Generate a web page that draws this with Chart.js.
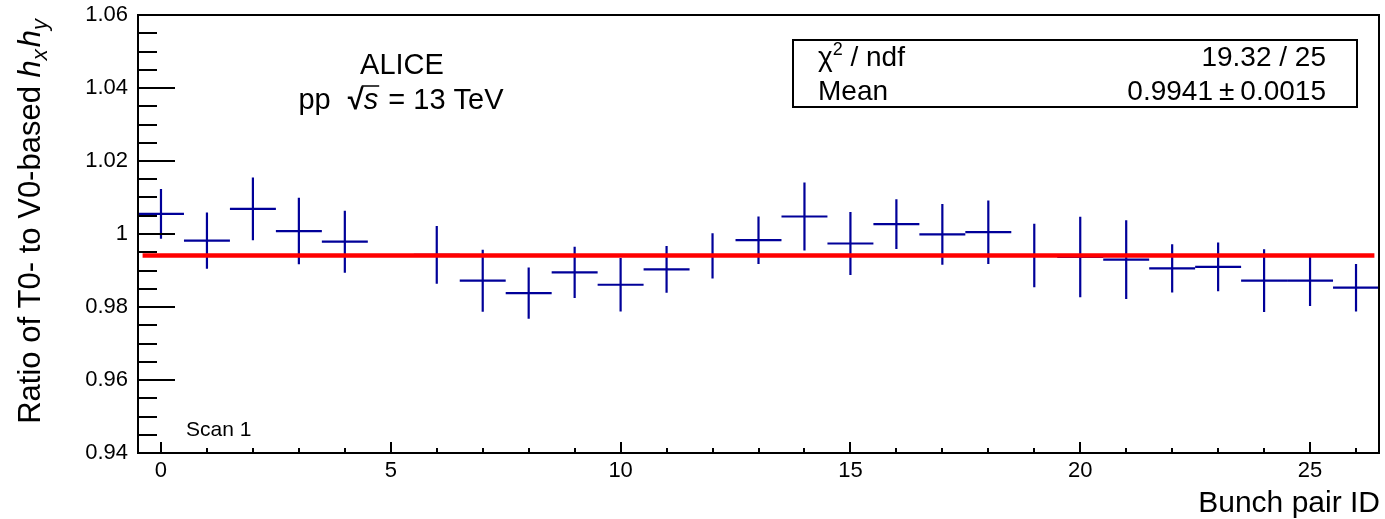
<!DOCTYPE html>
<html>
<head>
<meta charset="utf-8">
<script src="https://cdn.jsdelivr.net/npm/chart.js@4.4.1/dist/chart.umd.min.js"></script>
<style>
  html, body { margin: 0; padding: 0; background: #ffffff; }
  #wrap { width: 1385px; height: 519px; position: relative; }
</style>
</head>
<body>
<div id="wrap"><canvas id="c" width="1385" height="519"></canvas></div>
<script>
// ---------------- data ----------------
const bunchIds = [0, 1, 2, 3, 4, 6, 7, 8, 9, 10, 11, 12, 13, 14, 15, 16, 17, 18, 19, 20, 21, 22, 23, 24, 25, 26];
const ratioValues = [1.0055, 0.9982, 1.0069, 1.0008, 0.9979, 0.9943, 0.9872, 0.9838, 0.9895, 0.9861, 0.9903, 0.9940, 0.9983,
                     1.0048, 0.9974, 1.0027, 0.9999, 1.0005, 0.9941, 0.9937, 0.9930, 0.9906, 0.9910, 0.9872, 0.9872, 0.9853];
const ratioErrors = [0.0068, 0.0077, 0.0086, 0.0091, 0.0085, 0.0079, 0.0085, 0.0070, 0.0070, 0.0073, 0.0064, 0.0062, 0.0065,
                     0.0093, 0.0086, 0.0068, 0.0083, 0.0087, 0.0087, 0.0110, 0.0108, 0.0066, 0.0067, 0.0086, 0.0069, 0.0065];
const binHalfWidth = 0.5;
const fitMean = 0.9941;
const fitRange = [-0.4, 26.4];
const xRange = [-0.5, 26.5];
const yRange = [0.94, 1.06];
const xTickValues = [0, 5, 10, 15, 20, 25];
const xTickLabels = ['0', '5', '10', '15', '20', '25'];
const yTickValues = [0.94, 0.96, 0.98, 1.00, 1.02, 1.04, 1.06];
const yTickLabels = ['0.94', '0.96', '0.98', '1', '1.02', '1.04', '1.06'];
const statsNames = ['χ', 'Mean'];
const statsValues = ['19.32 / 25', '0.9941'];
const statsErrors = ['', '0.0015'];

// ---------------- style ----------------
const FONT = '"Liberation Sans", Arial, Helvetica, sans-serif';
const BLUE = 'rgb(0,0,153)';
const RED = 'rgb(255,0,0)';

function drawRich(ctx, segs, x, y, align) {
  let total = 0;
  segs.forEach(s => { ctx.font = s.font; s.w = ctx.measureText(s.t).width + (s.gap || 0); total += s.w; });
  let cx = align === 'right' ? x - total : (align === 'center' ? x - total / 2 : x);
  ctx.textAlign = 'left';
  ctx.textBaseline = 'alphabetic';
  segs.forEach(s => {
    ctx.font = s.font;
    ctx.fillText(s.t, cx, y + (s.dy || 0));
    s.x0 = cx; s.x1 = cx + s.w;
    cx += s.w;
  });
  return segs;
}

const rootPlugin = {
  id: 'rootStyle',
  beforeDatasetsDraw(chart) {
    const ctx = chart.ctx, xs = chart.scales.x, ys = chart.scales.y, a = chart.chartArea;
    ctx.save();
    ctx.beginPath(); ctx.rect(a.left, a.top, a.right - a.left, a.bottom - a.top); ctx.clip();
    ctx.strokeStyle = BLUE;
    ctx.lineWidth = 2.2;
    ctx.lineCap = 'butt';
    const pts = chart.data.datasets[0].data;
    pts.forEach((p, i) => {
      const px = xs.getPixelForValue(p.x);
      const py = ys.getPixelForValue(p.y);
      const x0 = xs.getPixelForValue(p.x - binHalfWidth);
      const x1 = xs.getPixelForValue(p.x + binHalfWidth);
      const y0 = ys.getPixelForValue(p.y - ratioErrors[i]);
      const y1 = ys.getPixelForValue(p.y + ratioErrors[i]);
      ctx.beginPath();
      ctx.moveTo(x0, py); ctx.lineTo(x1, py);
      ctx.moveTo(px, y0); ctx.lineTo(px, y1);
      ctx.stroke();
    });
    ctx.restore();
  },
  afterDatasetsDraw(chart) {
    const ctx = chart.ctx, xs = chart.scales.x, ys = chart.scales.y, a = chart.chartArea;
    ctx.save();
    ctx.fillStyle = '#000';
    ctx.strokeStyle = '#000';
    // frame
    ctx.lineWidth = 2;
    ctx.strokeRect(a.left, a.top, a.right - a.left, a.bottom - a.top);
    // y ticks (inside)
    for (let i = 0; i <= 24; i++) {
      const v = yRange[0] + i * 0.005;
      const py = Math.round(ys.getPixelForValue(v));
      const len = (i % 4 === 0) ? 37 : 19;
      ctx.beginPath(); ctx.moveTo(a.left, py); ctx.lineTo(a.left + len, py); ctx.stroke();
    }
    // x ticks (inside)
    for (let k = 0; k <= 26; k++) {
      const px = Math.round(xs.getPixelForValue(k));
      const len = (k % 5 === 0) ? 11 : 5;
      ctx.beginPath(); ctx.moveTo(px, a.bottom); ctx.lineTo(px, a.bottom - len); ctx.stroke();
    }
    // y title (rotated, aligned to top)
    ctx.save();
    ctx.translate(40, 19);
    ctx.rotate(-Math.PI / 2);
    drawRich(ctx, [
      { t: 'Ratio of T0- to V0-based ', font: `31px ${FONT}` },
      { t: 'h', font: `italic 31px ${FONT}` },
      { t: 'x', font: `italic 22px ${FONT}`, dy: 7, gap: 2 },
      { t: 'h', font: `italic 31px ${FONT}` },
      { t: 'y', font: `italic 22px ${FONT}`, dy: 7 }
    ], 0, 0, 'right');
    ctx.restore();
    // x title
    drawRich(ctx, [{ t: 'Bunch pair ID', font: `30px ${FONT}` }], 1380, 512, 'right');
    // Scan 1
    drawRich(ctx, [{ t: 'Scan 1', font: `21px ${FONT}` }], 186, 436, 'left');
    // ALICE
    drawRich(ctx, [{ t: 'ALICE', font: `29px ${FONT}` }], 402, 74, 'center');
    const base2 = 109;
    const segs = drawRich(ctx, [
      { t: 'pp ', font: `29px ${FONT}`, gap: 9 },
      { t: '√', font: `bold 29px ${FONT}` },
      { t: 's', font: `italic 29px ${FONT}`, gap: 2 },
      { t: ' = 13 TeV', font: `29px ${FONT}` }
    ], 401, base2, 'center');
    ctx.lineWidth = 1.5;
    ctx.beginPath();
    ctx.moveTo(segs[1].x1 - 2, base2 - 23);
    ctx.lineTo(segs[2].x1 - 1, base2 - 23);
    ctx.stroke();
    // stats box
    ctx.lineWidth = 2;
    ctx.strokeRect(793, 40, 1357 - 793, 107 - 40);
    drawRich(ctx, [
      { t: statsNames[0], font: `28px ${FONT}` },
      { t: '2', font: `18px ${FONT}`, dy: -11 },
      { t: ' / ndf', font: `28px ${FONT}` }
    ], 818, 66, 'left');
    drawRich(ctx, [{ t: statsValues[0], font: `28px ${FONT}` }], 1326, 66, 'right');
    drawRich(ctx, [{ t: statsNames[1], font: `28px ${FONT}` }], 818, 99.5, 'left');
    drawRich(ctx, [
      { t: statsValues[1], font: `28px ${FONT}`, gap: 6 },
      { t: '±', font: `28px ${FONT}`, gap: 6 },
      { t: statsErrors[1], font: `28px ${FONT}` }
    ], 1326, 99.5, 'right');
    ctx.restore();
  }
};

const chart = new Chart(document.getElementById('c'), {
  type: 'scatter',
  data: {
    datasets: [
      {
        label: 'Ratio',
        data: bunchIds.map((b, i) => ({ x: b, y: ratioValues[i] })),
        pointRadius: 0,
        pointHoverRadius: 0,
        showLine: false,
        order: 2
      },
      {
        label: 'Fit',
        type: 'line',
        data: fitRange.map(x => ({ x: x, y: fitMean })),
        borderColor: RED,
        borderWidth: 4.5,
        pointRadius: 0,
        fill: false,
        order: 1
      }
    ]
  },
  options: {
    responsive: false,
    animation: false,
    devicePixelRatio: 1,
    layout: { padding: { left: 0, right: 6, top: 15, bottom: 0 } },
    plugins: { legend: { display: false }, tooltip: { enabled: false }, title: { display: false } },
    events: [],
    scales: {
      x: {
        type: 'linear',
        min: xRange[0], max: xRange[1],
        afterFit: s => { s.height = 66; s.paddingLeft = 0; s.paddingRight = 0; },
        afterBuildTicks: s => { s.ticks = xTickValues.map(v => ({ value: v })); },
        grid: { display: false, drawTicks: false },
        border: { display: false },
        ticks: {
          color: '#000', font: { family: FONT, size: 22 }, padding: 5,
          maxRotation: 0, autoSkip: false,
          callback: (v, i) => xTickLabels[i]
        }
      },
      y: {
        type: 'linear',
        min: yRange[0], max: yRange[1],
        afterFit: s => { s.width = 138; s.paddingTop = 0; s.paddingBottom = 0; },
        afterBuildTicks: s => { s.ticks = yTickValues.map(v => ({ value: v })); },
        grid: { display: false, drawTicks: false },
        border: { display: false },
        ticks: {
          color: '#000', font: { family: FONT, size: 22 }, padding: 10,
          autoSkip: false,
          callback: (v, i) => yTickLabels[i]
        }
      }
    }
  },
  plugins: [rootPlugin]
});
</script>
</body>
</html>
